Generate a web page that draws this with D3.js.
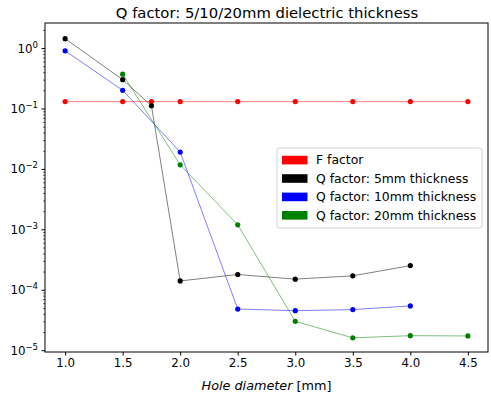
<!DOCTYPE html>
<html><head><meta charset="utf-8">
<script src="https://cdn.jsdelivr.net/npm/d3@7"></script>
<style>body{margin:0;background:#fff}svg{font-family:"DejaVu Sans",sans-serif}</style>
</head><body><svg id="c" width="491" height="395"></svg>
<script>
const xF = [1.0,1.5,1.75,2.0,2.5,3.0,3.5,4.0,4.5];
const fFactor = [0.13,0.13,0.13,0.13,0.13,0.13,0.13,0.13,0.13];
const x5 = [1.0,1.5,1.75,2.0,2.5,3.0,3.5,4.0];
const q5 = [1.43,0.30,0.111,1.40e-4,1.79e-4,1.50e-4,1.70e-4,2.51e-4];
const x10 = [1.0,1.5,2.0,2.5,3.0,3.5,4.0];
const q10 = [0.90,0.20,0.019,4.8e-5,4.5e-5,4.7e-5,5.4e-5];
const x20 = [1.5,2.0,2.5,3.0,3.5,4.0,4.5];
const q20 = [0.37,0.0117,1.19e-3,3.0e-5,1.6e-5,1.74e-5,1.72e-5];
const xTicks = [1.0,1.5,2.0,2.5,3.0,3.5,4.0,4.5];
const yExps = [0,-1,-2,-3,-4,-5];
const legendLabels = ["F factor","Q factor: 5mm thickness","Q factor: 10mm thickness","Q factor: 20mm thickness"];
const colors = ["#ff0000","#000000","#0000ff","#008000"];
const title = "Q factor: 5/10/20mm dielectric thickness";

const series = [
  {x:xF,y:fFactor,c:colors[0]},
  {x:x5,y:q5,c:colors[1]},
  {x:x10,y:q10,c:colors[2]},
  {x:x20,y:q20,c:colors[3]}
];

const svg = d3.select("#c");
const L=45, R=488, T=23, B=352;
const x = d3.scaleLinear().domain([0.825,4.675]).range([L,R]);
const y = d3.scaleLog().domain([Math.pow(10,-5.03),Math.pow(10,0.415)]).range([B,T]);

// title
svg.append("text").attr("x",(L+R)/2+0.5).attr("y",17.5).attr("text-anchor","middle")
  .attr("font-size",14.8).attr("fill","#000").text(title);

const g = svg.append("g");
const line = d3.line().x(d=>x(d[0])).y(d=>y(d[1]));
series.forEach(s=>{
  const pts = s.x.map((v,i)=>[v,s.y[i]]);
  g.append("path").attr("d",line(pts)).attr("fill","none").attr("stroke",s.c)
   .attr("stroke-width",1).attr("stroke-opacity",0.5);
});
series.forEach(s=>{
  const pts = s.x.map((v,i)=>[v,s.y[i]]);
  g.selectAll(null).data(pts).enter().append("circle")
   .attr("cx",d=>x(d[0])).attr("cy",d=>y(d[1])).attr("r",2.6).attr("fill",s.c);
});

// frame
svg.append("rect").attr("x",L).attr("y",T).attr("width",R-L).attr("height",B-T)
  .attr("fill","none").attr("stroke","#000").attr("stroke-width",1);

// x axis
const xa = svg.append("g").attr("transform",`translate(0,${B})`)
  .call(d3.axisBottom(x).tickValues(xTicks).tickFormat(d3.format(".1f")).tickSize(3.5).tickPadding(3.5));
xa.select(".domain").remove();
xa.selectAll("text").attr("font-size",11.8).attr("font-family","DejaVu Sans").attr("fill","#000");

// y axis major
const majors = yExps.map(e=>Math.pow(10,e));
const ya = svg.append("g").attr("transform",`translate(${L},0)`)
  .call(d3.axisLeft(y).tickValues(majors).tickFormat("").tickSize(3.5));
ya.select(".domain").remove();
const minors=[];
for(let e=-6;e<=1;e++) for(let m=2;m<=9;m++){const v=m*Math.pow(10,e); const yy=y(v); if(yy>=T&&yy<=B) minors.push(v);}
const ym = svg.append("g").attr("transform",`translate(${L},0)`)
  .call(d3.axisLeft(y).tickValues(minors).tickFormat("").tickSize(2));
ym.select(".domain").remove();
ym.selectAll("line").attr("stroke-width",0.6);

// y tick labels with superscripts
yExps.forEach(e=>{
  const t = svg.append("text").attr("x",L-7).attr("y",y(Math.pow(10,e))+4.5)
    .attr("text-anchor","end").attr("font-size",11.8).attr("fill","#000");
  t.append("tspan").text("10");
  t.append("tspan").attr("dy",-5).attr("font-size",8.5).text(e===0?"0":"\u2212"+(-e));
});

// x label
const xl = svg.append("text").attr("x",(L+R)/2).attr("y",390).attr("text-anchor","middle")
  .attr("font-size",12.8).attr("fill","#000");
xl.append("tspan").attr("font-style","italic").text("Hole diameter");
xl.append("tspan").text(" [mm]");

// legend
const lg = svg.append("g").attr("transform","translate(277,148)");
lg.append("rect").attr("x",0).attr("y",0).attr("width",205).attr("height",80).attr("rx",2.5)
  .attr("fill","#fff").attr("fill-opacity",0.8).attr("stroke","#d0d0d0").attr("stroke-width",1);
legendLabels.forEach((lab,i)=>{
  const cy = 12 + i*18.4;
  lg.append("rect").attr("x",5).attr("y",cy-4.2).attr("width",25.5).attr("height",8.6).attr("fill",colors[i]);
  lg.append("text").attr("x",39).attr("y",cy+4.3).attr("font-size",12.4).attr("fill","#000").text(lab);
});
</script></body></html>
